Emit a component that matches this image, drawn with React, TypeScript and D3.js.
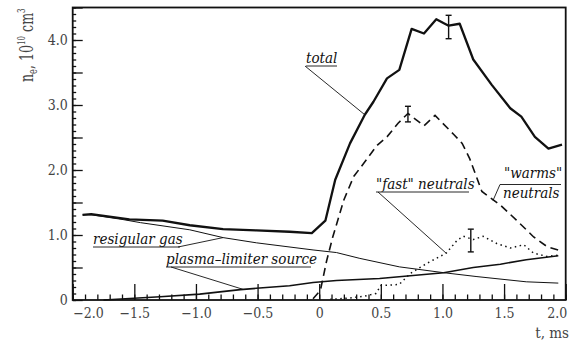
import React, { useEffect, useRef } from 'react';
import * as d3 from 'd3';

// t, ms  /  n, 10^10 cm^-3
const totalT = [-1.92, -1.85, -1.54, -1.27, -1.05, -0.78, -0.51, -0.24, -0.06, 0.05, 0.13, 0.25, 0.37, 0.44, 0.55, 0.65, 0.75, 0.85, 0.95, 1.05, 1.14, 1.25, 1.40, 1.55, 1.64, 1.75, 1.86, 1.97];
const totalN = [1.31, 1.32, 1.24, 1.22, 1.15, 1.09, 1.07, 1.05, 1.03, 1.22, 1.85, 2.41, 2.85, 3.05, 3.41, 3.54, 4.17, 4.10, 4.32, 4.22, 4.25, 3.70, 3.31, 2.95, 2.82, 2.51, 2.33, 2.39];

const warmT = [-0.05, 0.01, 0.06, 0.11, 0.20, 0.28, 0.36, 0.47, 0.55, 0.64, 0.72, 0.85, 0.94, 1.09, 1.16, 1.22, 1.32, 1.47, 1.60, 1.74, 1.85, 1.94];
const warmN = [0.02, 0.15, 0.60, 0.97, 1.54, 1.90, 2.10, 2.38, 2.51, 2.72, 2.87, 2.68, 2.84, 2.55, 2.41, 2.18, 1.67, 1.46, 1.23, 0.97, 0.82, 0.77];

const fastT = [0.09, 0.25, 0.37, 0.46, 0.50, 0.65, 0.74, 0.87, 1.03, 1.12, 1.17, 1.25, 1.33, 1.44, 1.55, 1.66, 1.74, 1.85, 1.94];
const fastN = [0.01, 0.03, 0.06, 0.10, 0.22, 0.24, 0.41, 0.56, 0.72, 0.92, 0.98, 0.93, 0.98, 0.87, 0.80, 0.85, 0.72, 0.67, 0.69];

const gasT = [-1.92, -1.85, -1.60, -1.45, -1.05, -0.78, -0.51, -0.05, 0.14, 0.33, 0.65, 1.01, 1.28, 1.68, 1.94];
const gasN = [1.31, 1.31, 1.24, 1.19, 1.08, 0.96, 0.88, 0.77, 0.73, 0.64, 0.51, 0.42, 0.36, 0.28, 0.26];

const plasmaT = [-1.75, -1.29, -0.97, -0.64, -0.51, -0.24, -0.05, 0.14, 0.49, 1.01, 1.25, 1.47, 1.68, 1.94];
const plasmaN = [0.0, 0.05, 0.09, 0.16, 0.18, 0.22, 0.27, 0.30, 0.33, 0.42, 0.50, 0.55, 0.62, 0.68];

// error bars
const errT = [1.05, 0.72, 1.23];
const errLo = [4.02, 2.74, 0.74];
const errHi = [4.38, 2.98, 1.09];

const xTicks = [-2.0, -1.5, -1.0, -0.5, 0, 0.5, 1.0, 1.5, 2.0];
const xTickLabels = ['\u22122.0', '\u22121.5', '\u22121.0', '\u22120.5', '0', '0.5', '1.0', '1.5', '2.0'];
const yTicks = [0, 1, 2, 3, 4];
const yTickLabels = ['0', '1.0', '2.0', '3.0', '4.0'];

const SERIF = "'DejaVu Serif Condensed', 'DejaVu Serif', serif";

const App = () => {
    const ref = useRef<SVGSVGElement>(null);

    useEffect(() => {
        const width = 581;
        const height = 342;
        const svg = d3.select(ref.current);
        svg.selectAll('*').remove();
        svg.attr('width', width).attr('height', height);

        const left = 72.7, right = 565.7, top = 7.5, bottom = 300;
        const x = d3.scaleLinear().domain([-2, 2]).range([left, right]);
        const y = d3.scaleLinear().domain([0, 4.5]).range([bottom, top]);

        svg.append('rect').attr('width', width).attr('height', height).attr('fill', '#fff');

        // minor ticks
        const xMinor = d3.axisBottom(x)
            .tickValues(d3.range(-20, 21).map(d => d / 10))
            .tickSize(-5.5)
            .tickFormat(() => '');
        svg.append('g').attr('transform', `translate(0, ${bottom})`).call(xMinor)
            .call(g => g.select('.domain').remove());

        const xMajor = d3.axisBottom(x)
            .tickValues(xTicks)
            .tickSize(-16)
            .tickPadding(8)
            .tickFormat((d, i) => xTickLabels[i]);
        svg.append('g').attr('class', 'xMajor').attr('transform', `translate(0, ${bottom})`).call(xMajor)
            .call(g => g.select('.domain').remove());

        const yMinor = d3.axisLeft(y)
            .tickValues(d3.range(0, 46).map(d => d / 10))
            .tickSize(-3.5)
            .tickFormat(() => '');
        svg.append('g').attr('transform', `translate(${left}, 0)`).call(yMinor)
            .call(g => g.select('.domain').remove());

        const yMajor = d3.axisLeft(y)
            .tickValues(d3.range(0, 4.51, 0.5))
            .tickSize(-10)
            .tickPadding(5)
            .tickFormat(d => {
                const i = yTicks.indexOf(+d);
                return i >= 0 ? yTickLabels[i] : '';
            });
        svg.append('g').attr('transform', `translate(${left}, 0)`).call(yMajor)
            .call(g => g.select('.domain').remove());

        svg.selectAll('g').attr('font-family', null);
        svg.selectAll('.tick line').attr('stroke', '#111').attr('stroke-width', 1.3);
        svg.selectAll('.tick text')
            .style('font-family', SERIF)
            .style('font-size', '14px')
            .attr('fill', '#444');
        // end labels sit inside the frame
        svg.selectAll('.xMajor .tick text')
            .attr('text-anchor', (d, i) => (i === 0 ? 'start' : i === xTicks.length - 1 ? 'end' : 'middle'))
            .attr('dx', (d, i) => (i === 0 ? 0 : i === xTicks.length - 1 ? 1 : 0));

        // frame
        svg.append('rect')
            .attr('x', left).attr('y', top)
            .attr('width', right - left).attr('height', bottom - top)
            .attr('fill', 'none').attr('stroke', '#111').attr('stroke-width', 1.8);

        const line = d3.line<[number, number]>().x(d => x(d[0])).y(d => y(d[1]));
        const zip = (ts: number[], ns: number[]) => ts.map((t, i) => [t, ns[i]] as [number, number]);

        svg.append('path').attr('d', line(zip(gasT, gasN)))
            .attr('fill', 'none').attr('stroke', '#111').attr('stroke-width', 1);
        svg.append('path').attr('d', line(zip(plasmaT, plasmaN)))
            .attr('fill', 'none').attr('stroke', '#111').attr('stroke-width', 1.6);
        svg.append('path').attr('d', line(zip(fastT, fastN)))
            .attr('fill', 'none').attr('stroke', '#111').attr('stroke-width', 1.5)
            .attr('stroke-dasharray', '1.5 3.5');
        svg.append('path').attr('d', line(zip(warmT, warmN)))
            .attr('fill', 'none').attr('stroke', '#111').attr('stroke-width', 1.6)
            .attr('stroke-dasharray', '8 5');
        svg.append('path').attr('d', line(zip(totalT, totalN)))
            .attr('fill', 'none').attr('stroke', '#111').attr('stroke-width', 2.3)
            .attr('stroke-linejoin', 'round');

        // error bars
        errT.forEach((t, i) => {
            const g = svg.append('g').attr('stroke', '#111').attr('stroke-width', 1.4);
            g.append('line').attr('x1', x(t)).attr('x2', x(t)).attr('y1', y(errLo[i])).attr('y2', y(errHi[i]));
            g.append('line').attr('x1', x(t) - 3).attr('x2', x(t) + 3).attr('y1', y(errLo[i])).attr('y2', y(errLo[i]));
            g.append('line').attr('x1', x(t) - 3).attr('x2', x(t) + 3).attr('y1', y(errHi[i])).attr('y2', y(errHi[i]));
        });

        const italic = (tx: number, ty: number, text: string) =>
            svg.append('text').attr('x', tx).attr('y', ty)
                .style('font-family', SERIF).style('font-style', 'italic').style('font-size', '15px')
                .attr('fill', '#111').text(text);

        // labels with leaders
        const note = (text: string, tx: number, ty: number, ulEnd: number, from: [number, number], to: [number, number]) => {
            italic(tx, ty, text);
            svg.append('line').attr('x1', tx).attr('x2', ulEnd).attr('y1', ty + 3).attr('y2', ty + 3)
                .attr('stroke', '#111').attr('stroke-width', 0.9);
            svg.append('line').attr('x1', from[0]).attr('y1', from[1]).attr('x2', x(to[0])).attr('y2', y(to[1]))
                .attr('stroke', '#111').attr('stroke-width', 0.9);
        };
        note('total', 306, 63, 337, [305, 66], [0.37, 2.85]);
        note('resigular gas', 93, 244, 180, [178, 247], [-0.78, 0.96]);
        note('plasma\u2013limiter source', 166, 264, 311, [171, 267], [-0.62, 0.165]);
        note('"fast" neutrals', 376, 189, 469, [378, 192], [1.03, 0.72]);

        italic(504, 178, '"warms"');
        italic(503, 198, 'neutrals');
        svg.append('path')
            .attr('d', `M${x(1.41)},${y(1.53)}L500,184.5L561,184.5`)
            .attr('fill', 'none').attr('stroke', '#111').attr('stroke-width', 0.9);

        // axis titles
        svg.append('text').attr('x', 569).attr('y', 338)
            .attr('text-anchor', 'end')
            .style('font-family', SERIF).style('font-size', '15px')
            .attr('fill', '#444').text('t, ms');

        const yl = svg.append('text')
            .attr('transform', 'translate(33, 82) rotate(-90) scale(1, 1.35)')
            .style('font-family', SERIF).style('font-size', '14px')
            .attr('fill', '#444');
        yl.append('tspan').text('n');
        yl.append('tspan').style('font-size', '9px').attr('dy', 3).text('e');
        yl.append('tspan').attr('dy', -3).text(', 10');
        yl.append('tspan').style('font-size', '8px').attr('dy', -6).text('10');
        yl.append('tspan').attr('dy', 6).text(' cm');
        yl.append('tspan').style('font-size', '8px').attr('dy', -6).text('3');
    }, []);

    return (
        <svg ref={ref} style={{ position: 'absolute', left: 0, top: 0, display: 'block' }} />
    );
};

export default App;
